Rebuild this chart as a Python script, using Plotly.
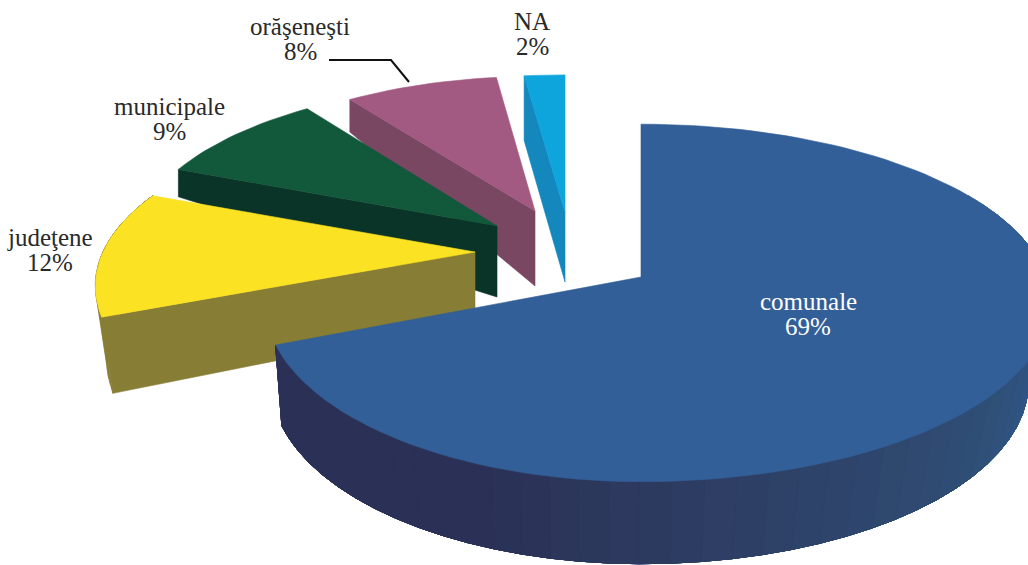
import math
import plotly.graph_objects as go

# ---- data ----
categories = ["comunale", "judeţene", "municipale", "orăşeneşti", "NA"]
shares = [69, 12, 9, 8, 2]

# ---- styling / projection of the exploded 3D pie ----
top_colors = ["#335f98", "#fbe324", "#12583a", "#a25a82", "#0ea5dd"]
side_colors = ["#2b3156", "#887d35", "#0b3428", "#7a4763", "#1487bd"]
# apex x, apex y, radius x (left), radius x (right), radius y, depth,
# bottom x scale (left), bottom x scale (right), bottom y scale, perspective
geometry = {
    "comunale":   (641, 277, 372, 405, 175, 80, 0.983, 0.946, 1.01, 0.145),
    "judeţene":   (475, 252, 372, 372, 164, 69, 0.97, 0.97, 1.11, 0.20),
    "municipale": (497, 226, 361, 361, 162, 71, 1.00, 1.00, 1.77, 0.145),
    "orăşeneşti": (535, 211, 352, 352, 154, 75, 1.00, 1.00, 1.38, 0.145),
    "NA":         (565, 212, 373, 373, 157, 70, 1.00, 1.00, 1.04, 0.145),
}
draw_order = ["NA", "orăşeneşti", "municipale", "judeţene", "comunale"]
has_wall = {"comunale", "judeţene"}
has_start_cut = {"judeţene", "municipale", "orăşeneşti", "NA"}
wall_ramp = [(70, "#335a8c"), (105, "#30578a"), (125, "#2f5078"), (165, "#2e4066"), (200, "#2b3156"), (248, "#2b3156")]
leader_x = [329, 391, 409]
leader_y = [60, 60, 82]
label_font = "Liberation Serif"
label_size = 25
label_lines = {
    "comunale": (808, 301, 326, "white"),
    "judeţene": (50, 237, 262, "#2a2a2a"),
    "municipale": (169, 106, 131, "#2a2a2a"),
    "orăşeneşti": (300, 26, 51, "#2a2a2a"),
    "NA": (532, 21, 46, "#2a2a2a"),
}


def rim(name, t_deg, bottom=False):
    ax, ay, rxl, rxr, ry, h, sxl, sxr, sy, k = geometry[name]
    t = math.radians(t_deg)
    X, Y = math.sin(t), math.cos(t)
    s = 1 / (1 + k * Y)
    dx = (rxl if X < 0 else rxr) * X * s
    dy = -ry * Y * s
    if bottom:
        return ax + (sxl if X < 0 else sxr) * dx, ay + h + sy * dy
    return ax + dx, ay + dy


def hex_mix(a, b, f):
    ca = [int(a[i:i + 2], 16) for i in (1, 3, 5)]
    cb = [int(b[i:i + 2], 16) for i in (1, 3, 5)]
    return "#" + "".join(f"{round(p + (q - p) * f):02x}" for p, q in zip(ca, cb))


def ramp_color(t):
    for (t0, c0), (t1, c1) in zip(wall_ramp, wall_ramp[1:]):
        if t <= t1:
            return hex_mix(c0, c1, max(0, (t - t0) / (t1 - t0)))
    return wall_ramp[-1][1]


def poly(fig, pts, color):
    xs = [p[0] for p in pts] + [pts[0][0]]
    ys = [p[1] for p in pts] + [pts[0][1]]
    fig.add_trace(go.Scatter(x=xs, y=ys, mode="lines", fill="toself", fillcolor=color,
                             line=dict(color=color, width=0.6), hoverinfo="skip", showlegend=False))


# slice angles from the shares, clockwise from the top
spans = {}
cum = 0
for c, v in zip(categories, shares):
    spans[c] = (cum * 3.6, (cum + v) * 3.6)
    cum += v

fig = go.Figure()
for name in draw_order:
    t0, t1 = spans[name]
    idx = categories.index(name)
    g = geometry[name]
    ax, ay, h = g[0], g[1], g[5]
    if name in has_start_cut:
        poly(fig, [(ax, ay), rim(name, t0), rim(name, t0, True), (ax, ay + h)], side_colors[idx])
    if name in has_wall:
        start = max(t0, 60) if name == "comunale" else t0
        n = max(2, int((t1 - start) / 4))
        step = (t1 - start) / n
        for i in range(n):
            a = start + step * i
            # each band runs on under the next one, so no seam can show
            b = min(t1, a + step * 12)
            fine = 12
            arc = [a + (b - a) * j / fine for j in range(fine + 1)]
            col = ramp_color(a + step / 2) if name == "comunale" else side_colors[idx]
            pts = [rim(name, q) for q in arc] + [rim(name, q, True) for q in reversed(arc)]
            poly(fig, pts, col)
    n = max(4, int((t1 - t0) / 2))
    pts = [(ax, ay)] + [rim(name, t0 + (t1 - t0) * i / n) for i in range(n + 1)]
    poly(fig, pts, top_colors[idx])

fig.add_trace(go.Scatter(x=leader_x, y=leader_y, mode="lines", line=dict(color="#111111", width=2),
                         hoverinfo="skip", showlegend=False))

for c, v in zip(categories, shares):
    x, y1, y2, col = label_lines[c]
    for text, y in ((c, y1), (f"{v}%", y2)):
        fig.add_annotation(x=x, y=y, text=text, showarrow=False, xanchor="center", yanchor="middle",
                           font=dict(family=label_font, size=label_size, color=col))

fig.update_layout(
    width=1028, height=565, margin=dict(l=0, r=0, t=0, b=0),
    paper_bgcolor="white", plot_bgcolor="white", showlegend=False,
    xaxis=dict(range=[0, 1028], visible=False, fixedrange=True),
    yaxis=dict(range=[565, 0], visible=False, fixedrange=True),
)
fig.write_html("out.html", config={"displayModeBar": False},
               post_script="document.body.style.margin='0';document.body.style.overflow='hidden';")
